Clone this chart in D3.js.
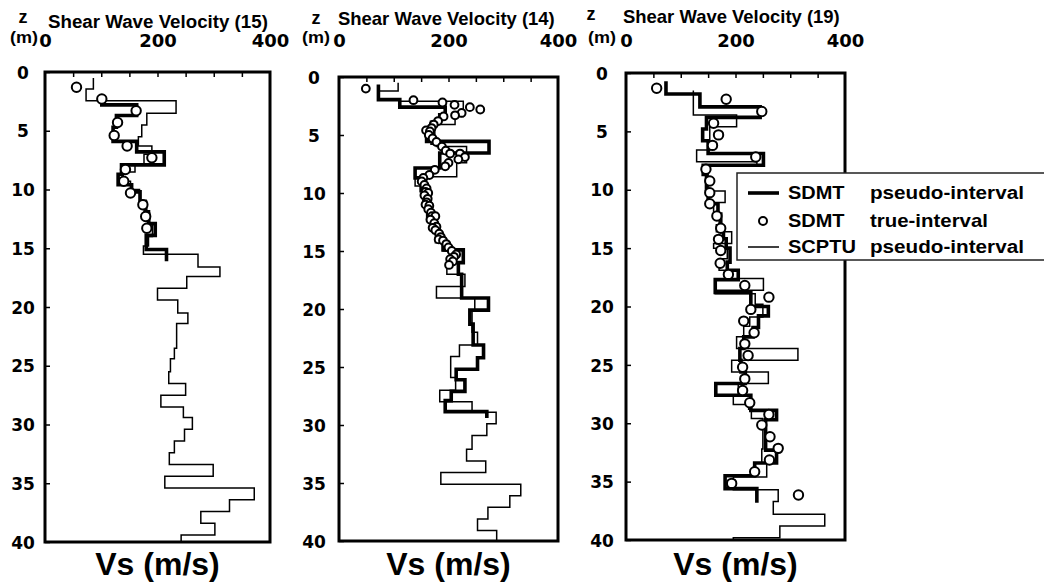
<!DOCTYPE html>
<html>
<head>
<meta charset="utf-8">
<script src="https://cdn.jsdelivr.net/npm/d3@7"></script>
<style>
  html, body { margin: 0; padding: 0; background: #fff; }
  svg { display: block; }
  .heavy { font-family: "DejaVu Sans", sans-serif; font-weight: bold; fill: #000; }
  .sans  { font-family: "Liberation Sans", Arial, sans-serif; font-weight: bold; fill: #000; }
</style>
</head>
<body>
<svg id="chart" width="1044" height="584"></svg>
<script>
// ---- Profiles: each layer row is [top depth (m), bottom depth (m), Vs (m/s)] ----

// Site 15
const sdmtPseudo15 = [
  [2.0, 2.8, 101], [2.8, 3.7, 163], [3.7, 4.7, 127], [4.7, 5.9, 121], [5.9, 6.8, 163],
  [6.8, 7.9, 212], [7.9, 8.7, 136], [8.7, 9.6, 130], [9.6, 10.2, 154], [10.2, 11.0, 169],
  [11.0, 11.9, 178], [11.9, 12.9, 184], [12.9, 13.9, 196], [13.9, 15.1, 180], [15.1, 16.1, 216]
];
const scptu15 = [
  [0.5, 1.45, 86], [1.45, 2.45, 73], [2.45, 3.5, 233], [3.5, 4.5, 181], [4.5, 5.5, 172],
  [5.5, 6.3, 166], [6.3, 7.0, 190], [7.0, 7.8, 176], [7.8, 8.5, 160], [8.5, 9.3, 139],
  [9.3, 10.0, 152], [10.0, 11.0, 168], [11.0, 12.0, 181], [12.0, 13.0, 186], [13.0, 14.0, 191],
  [14.0, 14.8, 184], [14.8, 15.5, 175], [15.5, 16.6, 272], [16.6, 17.4, 311], [17.4, 18.4, 252],
  [18.4, 19.4, 200], [19.4, 20.5, 236], [20.5, 21.4, 254], [21.4, 23.5, 234], [23.5, 24.4, 230],
  [24.4, 25.5, 223], [25.5, 26.5, 220], [26.5, 27.5, 250], [27.5, 28.5, 206], [28.5, 29.4, 246],
  [29.4, 30.4, 262], [30.4, 31.4, 248], [31.4, 32.4, 230], [32.4, 33.4, 221], [33.4, 34.4, 299],
  [34.4, 35.4, 213], [35.4, 36.4, 372], [36.4, 37.4, 328], [37.4, 38.4, 277], [38.4, 39.4, 302],
  [39.4, 40.0, 242]
];
// true-interval points: [depth (m), Vs (m/s)]
const sdmtTrue15 = [
  [1.3, 56], [2.3, 101], [3.3, 162], [4.3, 129], [5.4, 123], [6.3, 146], [7.3, 190],
  [8.3, 143], [9.3, 140], [10.3, 152], [11.3, 174], [12.3, 179], [13.3, 181]
];

// Site 14
const sdmtPseudo14 = [
  [0.65, 1.95, 72], [1.95, 2.6, 111], [2.6, 3.25, 194], [3.25, 3.9, 184], [3.9, 4.8, 169],
  [4.8, 5.55, 160], [5.55, 6.55, 274], [6.55, 7.85, 184], [7.85, 8.7, 139], [8.7, 9.8, 150],
  [9.8, 11.0, 156], [11.0, 12.2, 162], [12.2, 13.2, 170], [13.2, 14.2, 178], [14.2, 14.9, 190],
  [14.9, 16.0, 227], [16.0, 17.0, 218], [17.0, 19.05, 224], [19.05, 20.1, 273], [20.1, 21.3, 239],
  [21.3, 23.1, 245], [23.1, 24.2, 264], [24.2, 25.2, 253], [25.2, 26.1, 214], [26.1, 27.1, 230],
  [27.1, 27.9, 205], [27.9, 28.85, 194], [28.85, 29.4, 270]
];
const scptu14 = [
  [0.5, 1.2, 108], [1.2, 2.0, 72], [2.0, 2.1, 111], [2.1, 3.4, 227], [3.4, 4.1, 212],
  [4.1, 5.0, 175], [5.0, 5.8, 168], [5.8, 6.0, 178], [6.0, 7.4, 233], [7.4, 8.6, 215],
  [8.6, 9.4, 139], [9.4, 10.5, 152], [10.5, 11.5, 160], [11.5, 12.5, 165], [12.5, 13.5, 172],
  [13.5, 14.3, 180], [14.3, 15.0, 190], [15.0, 16.2, 210], [16.2, 17.0, 197], [17.0, 18.05, 230],
  [18.05, 19.05, 178], [19.05, 20.2, 248], [20.2, 22.0, 243], [22.0, 23.1, 253], [23.1, 24.1, 220],
  [24.1, 25.9, 204], [25.9, 27.0, 213], [27.0, 28.0, 184], [28.0, 28.9, 243], [28.9, 29.9, 287],
  [29.9, 30.9, 270], [30.9, 32.1, 243], [32.1, 33.1, 233], [33.1, 34.1, 268], [34.1, 35.1, 186],
  [35.1, 36.1, 332], [36.1, 37.1, 312], [37.1, 38.1, 272], [38.1, 39.1, 253], [39.1, 40.0, 288]
];
const sdmtTrue14 = [
  [1.0, 49], [2.0, 136], [2.2, 189], [2.4, 211], [2.6, 239], [2.8, 258], [3.1, 224],
  [3.3, 212], [3.4, 191], [3.8, 181], [4.1, 173], [4.4, 169], [4.6, 159], [4.7, 166],
  [5.0, 164], [5.3, 171], [5.6, 178], [6.0, 188], [6.35, 195], [6.6, 203], [6.6, 221],
  [6.9, 230], [7.1, 218], [7.4, 200], [7.7, 194], [8.0, 175], [8.45, 165], [8.7, 154],
  [9.0, 151], [9.3, 156], [9.6, 160], [9.9, 158], [10.0, 163], [10.2, 156], [10.5, 162],
  [10.8, 160], [11.0, 158], [11.1, 165], [11.4, 163], [11.7, 168], [12.0, 170], [12.0, 176],
  [12.3, 167], [12.6, 174], [12.9, 178], [13.0, 171], [13.2, 176], [13.5, 183], [13.8, 186],
  [14.0, 182], [14.1, 190], [14.4, 196], [14.7, 200], [15.0, 206], [15.3, 214], [15.5, 210],
  [15.7, 203], [15.9, 208], [16.2, 201]
];

// Site 19
const sdmtPseudo19 = [
  [0.7, 1.8, 73], [1.8, 2.9, 135], [2.9, 3.8, 245], [3.8, 4.8, 147], [4.8, 5.8, 140],
  [5.8, 6.9, 150], [6.9, 7.9, 251], [7.9, 8.7, 141], [8.7, 10.0, 147], [10.0, 11.2, 150],
  [11.2, 12.2, 168], [12.2, 13.2, 172], [13.2, 14.2, 178], [14.2, 15.0, 183], [15.0, 16.2, 190],
  [16.2, 16.9, 185], [16.9, 17.7, 205], [17.7, 18.8, 163], [18.8, 20.0, 228], [20.0, 20.8, 260],
  [20.8, 21.8, 242], [21.8, 22.6, 232], [22.6, 23.6, 215], [23.6, 24.6, 208], [24.6, 25.6, 210],
  [25.6, 26.6, 218], [26.6, 27.6, 164], [27.6, 28.9, 228], [28.9, 29.7, 275], [29.7, 32.3, 255],
  [32.3, 33.4, 275], [33.4, 34.5, 235], [34.5, 35.6, 181], [35.6, 36.8, 239]
];
const scptu19 = [
  [1.5, 3.6, 123], [3.6, 4.6, 202], [4.6, 6.6, 153], [6.6, 7.6, 129], [7.6, 7.9, 239],
  [7.9, 10.1, 150], [10.1, 11.1, 181], [11.1, 12.0, 160], [12.0, 13.0, 175], [13.0, 13.6, 165],
  [13.6, 14.6, 193], [14.6, 15.0, 160], [15.0, 15.9, 185], [15.9, 16.9, 170], [16.9, 17.6, 205],
  [17.6, 18.6, 251], [18.6, 18.9, 163], [18.9, 19.8, 236], [19.8, 20.9, 250], [20.9, 21.7, 226],
  [21.7, 22.6, 215], [22.6, 23.6, 202], [23.6, 24.6, 314], [24.6, 25.6, 193], [25.6, 26.6, 260],
  [26.6, 27.6, 205], [27.6, 28.4, 196], [28.4, 28.8, 224], [28.8, 29.6, 229], [29.6, 32.2, 250],
  [32.2, 33.4, 248], [33.4, 34.6, 257], [34.6, 35.7, 196], [35.7, 36.7, 278], [36.7, 37.8, 269],
  [37.8, 38.8, 363], [38.8, 39.8, 281], [39.8, 40.0, 196]
];
const sdmtTrue19 = [
  [1.3, 56], [2.25, 183], [3.3, 248], [4.3, 160], [5.3, 169], [6.2, 158], [7.2, 237],
  [8.25, 146], [9.25, 153], [10.25, 153], [11.2, 153], [12.25, 166], [13.3, 173], [14.25, 169],
  [15.2, 173], [16.3, 172], [17.25, 187], [18.2, 217], [19.2, 261], [20.25, 228], [21.25, 215],
  [22.25, 234], [23.2, 217], [24.2, 223], [25.2, 213], [26.2, 217], [27.2, 213], [28.25, 226],
  [29.25, 261], [30.15, 248], [31.15, 263], [32.15, 278], [33.15, 262], [34.15, 235],
  [35.15, 193], [36.15, 315]
];

// ---- Axes ----
const velocityDomain = [0, 400];
const depthDomain = [0, 40];
const velocityLabels = [0, 200, 400];
const velocityMinorTicks = [50, 100, 150, 200, 250, 300, 350];
const depthTicks = [0, 5, 10, 15, 20, 25, 30, 35, 40];

const titles = ["Shear Wave Velocity (15)", "Shear Wave Velocity (14)", "Shear Wave Velocity (19)"];
const legendSymbols = ["SDMT", "SDMT", "SCPTU"];
const legendMethods = ["pseudo-interval", "true-interval", "pseudo-interval"];

// Frame geometry of the three panels
const layout = [
  { left: 45,  right: 270, top: 72, bottom: 542, r: 4.7, zx: 23,  mx: 10,  titleX: 48,  titleW: 220, titleY: 28, zY: 23, labelDx: -22 },
  { left: 339, right: 558, top: 77, bottom: 541, r: 3.9, zx: 316, mx: 302, titleX: 338, titleW: 217, titleY: 25, zY: 24, labelDx: -25 },
  { left: 626, right: 845, top: 73, bottom: 540, r: 4.7, zx: 591, mx: 588, titleX: 623, titleW: 217, titleY: 23, zY: 20, labelDx: -24 }
];
const profiles = [
  { pseudo: sdmtPseudo15, scptu: scptu15, trueInt: sdmtTrue15 },
  { pseudo: sdmtPseudo14, scptu: scptu14, trueInt: sdmtTrue14 },
  { pseudo: sdmtPseudo19, scptu: scptu19, trueInt: sdmtTrue19 }
];

const svg = d3.select("#chart");

// Left-anchored text stretched horizontally to a given width
function fittedText(parent, str, x, y, size, width) {
  const t = parent.append("text").attr("class", "sans").attr("font-size", size)
    .attr("x", 0).attr("y", 0).text(str);
  const w = t.node().getBBox().width || width;
  t.attr("transform", `translate(${x},${y}) scale(${width / w},1)`);
  return t;
}

// Turn a layered profile into the vertices of a step line
function stepPoints(layers) {
  const pts = [];
  layers.forEach(([t, b, v]) => { pts.push([v, t]); pts.push([v, b]); });
  return pts;
}

layout.forEach((L, i) => {
  const x = d3.scaleLinear().domain(velocityDomain).range([L.left, L.right]);
  const y = d3.scaleLinear().domain(depthDomain).range([L.top, L.bottom]);
  const g = svg.append("g");
  const P = profiles[i];

  // header texts
  g.append("text").attr("class", "sans").attr("x", L.zx).attr("y", L.zY)
    .attr("text-anchor", "middle").attr("font-size", 18).text("z");
  fittedText(g, "(m)", L.mx, 43, 17, 28);
  fittedText(g, titles[i], L.titleX, L.titleY, 18, L.titleW);

  // velocity labels above the frame
  const topLabels = g.append("g").attr("transform", `translate(0,47)`)
    .call(d3.axisTop(x).tickValues(velocityLabels).tickSize(0).tickPadding(0).tickFormat(d3.format("d")));
  topLabels.select(".domain").remove();
  topLabels.selectAll("text").attr("class", "heavy").attr("font-size", 18)
    .attr("font-family", null).attr("fill", null);

  // inward tick marks on the top edge
  const topTicks = g.append("g").attr("transform", `translate(0,${L.top})`)
    .call(d3.axisTop(x).tickValues(velocityMinorTicks).tickSize(-5).tickFormat(""));
  topTicks.select(".domain").remove();
  topTicks.selectAll("line").attr("stroke", "#000").attr("stroke-width", 1.5);

  // depth axis on the left
  const leftAxis = g.append("g").attr("transform", `translate(${L.left},0)`)
    .call(d3.axisLeft(y).tickValues(depthTicks).tickSize(-5).tickPadding(0));
  leftAxis.select(".domain").remove();
  leftAxis.selectAll("line").attr("stroke", "#000").attr("stroke-width", 1.5);
  leftAxis.selectAll("text").attr("class", "heavy").attr("font-size", 17)
    .attr("font-family", null).attr("fill", null)
    .attr("text-anchor", "middle").attr("x", L.labelDx).attr("dy", "0.36em");

  // SCPTU pseudo-interval (thin)
  const line = d3.line().x(d => x(d[0])).y(d => y(d[1]));
  g.append("path").attr("d", line(stepPoints(P.scptu)))
    .attr("fill", "none").attr("stroke", "#000").attr("stroke-width", 1.5)
    .attr("stroke-linejoin", "miter");

  // SDMT pseudo-interval (thick)
  g.append("path").attr("d", line(stepPoints(P.pseudo)))
    .attr("fill", "none").attr("stroke", "#000").attr("stroke-width", 3.6)
    .attr("stroke-linejoin", "miter");

  // SDMT true-interval (open circles)
  g.selectAll("circle.pt").data(P.trueInt).enter().append("circle")
    .attr("class", "pt")
    .attr("cx", d => x(d[1])).attr("cy", d => y(d[0])).attr("r", L.r)
    .attr("fill", "#fff").attr("stroke", "#000").attr("stroke-width", 2);

  // frame
  g.append("rect").attr("x", L.left).attr("y", L.top)
    .attr("width", L.right - L.left).attr("height", L.bottom - L.top)
    .attr("fill", "none").attr("stroke", "#000").attr("stroke-width", 3);

  // axis title below
  g.append("text").attr("class", "sans").attr("x", (L.left + L.right) / 2).attr("y", 575)
    .attr("text-anchor", "middle").attr("font-size", 32).text("Vs (m/s)");
});

// legend overlaid on the right panel
const lg = svg.append("g");
lg.append("rect").attr("x", 737).attr("y", 173).attr("width", 330).attr("height", 87)
  .attr("fill", "#fff").attr("stroke", "#222").attr("stroke-width", 1.5);
const rowsY = [193, 221, 247];
const symbolWidths = [57, 57, 68];
const methodWidths = [154, 118, 154];
lg.append("line").attr("x1", 748).attr("x2", 779).attr("y1", rowsY[0]).attr("y2", rowsY[0])
  .attr("stroke", "#000").attr("stroke-width", 3.6);
lg.append("circle").attr("cx", 763).attr("cy", rowsY[1]).attr("r", 4)
  .attr("fill", "#fff").attr("stroke", "#000").attr("stroke-width", 2);
lg.append("line").attr("x1", 748).attr("x2", 779).attr("y1", rowsY[2]).attr("y2", rowsY[2])
  .attr("stroke", "#000").attr("stroke-width", 1.5);
rowsY.forEach((ry, k) => {
  fittedText(lg, legendSymbols[k], 788, ry + 6, 19, symbolWidths[k]);
  fittedText(lg, legendMethods[k], 870, ry + 6, 19, methodWidths[k]);
});
</script>
</body>
</html>
